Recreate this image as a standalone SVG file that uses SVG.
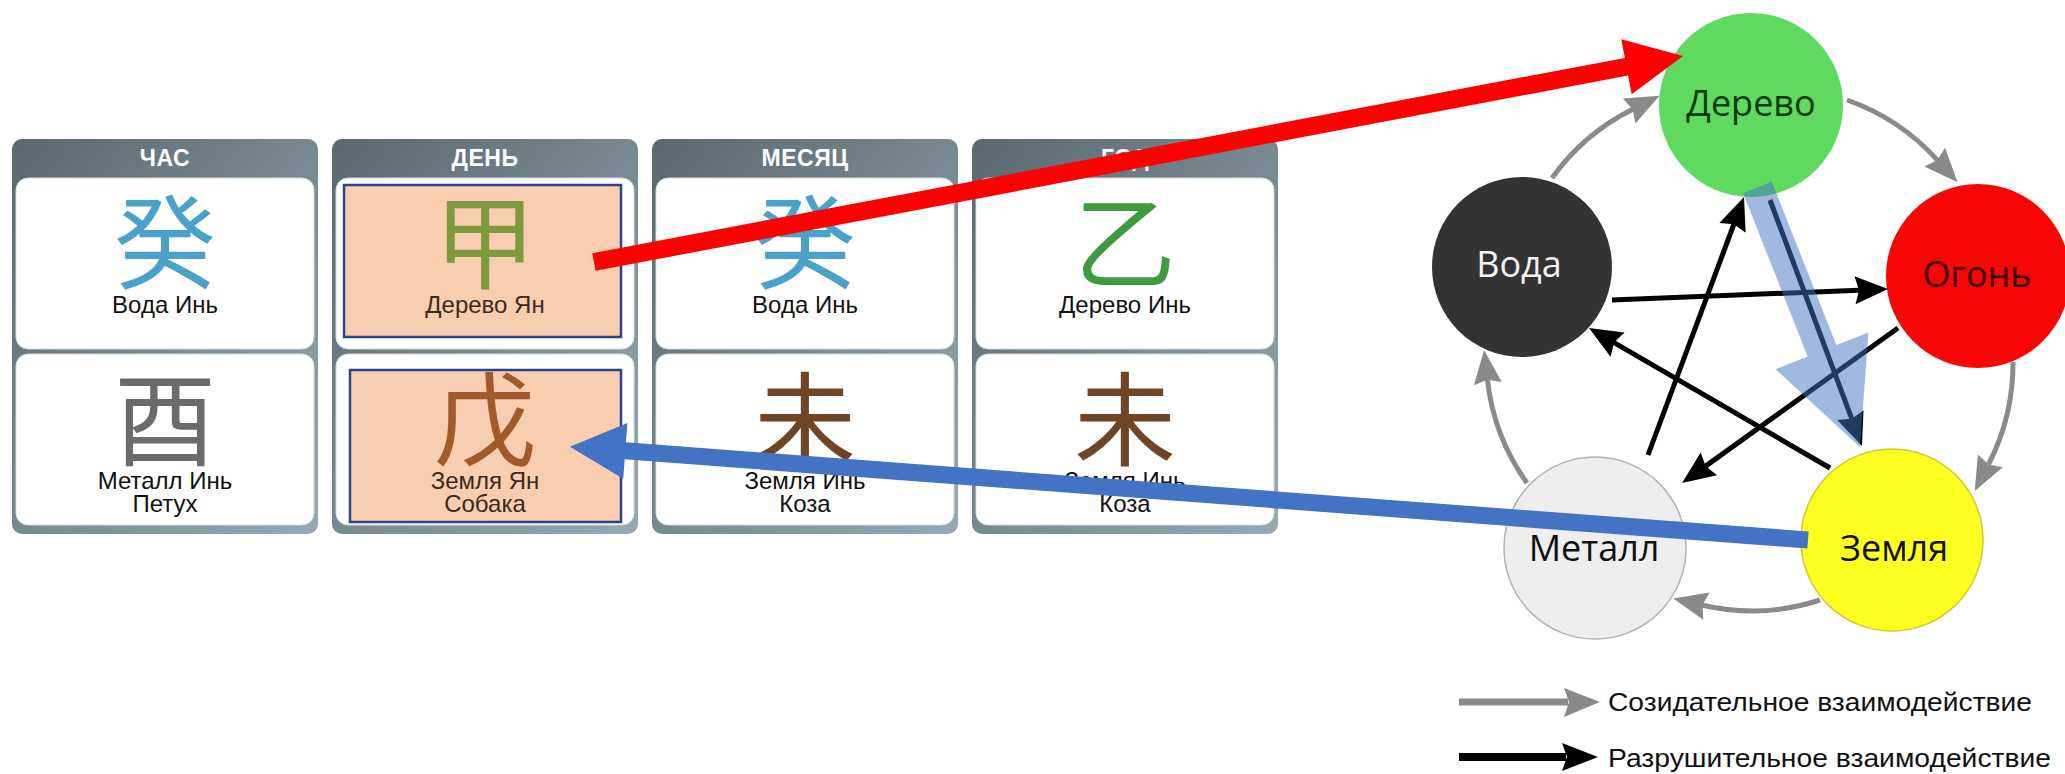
<svg xmlns="http://www.w3.org/2000/svg" width="2065" height="774" viewBox="0 0 2065 774">
<style>
.hdr{font-family:"Liberation Sans",Arial,sans-serif;font-weight:bold;font-size:23px;fill:#ffffff;text-anchor:middle;letter-spacing:0.5px}
.lbl{font-family:"Liberation Sans",Arial,sans-serif;font-size:24px;fill:#111111;text-anchor:middle}
.lblh{fill:#3a2a1e}
.cjk{font-family:"Noto Sans CJK SC","Noto Sans CJK JP",sans-serif;font-size:102px;text-anchor:middle}
.el{font-family:"Open Sans","Noto Sans",sans-serif;font-size:36px;text-anchor:middle}
.leg{font-family:"Liberation Sans",Arial,sans-serif;font-size:26px;fill:#111111}
.card{fill:#ffffff;stroke:#d6dbde;stroke-width:1}
.hl{fill:#f8cdb0;stroke:#284690;stroke-width:2.5}
.gray{fill:none;stroke:#8a8a8a;stroke-width:5}
.blk{fill:none;stroke:#000000;stroke-width:5}
</style>
<defs>
<linearGradient id="pg" x1="0" y1="0" x2="1" y2="1">
<stop offset="0" stop-color="#5a6870"/>
<stop offset="1" stop-color="#96a9b4"/>
</linearGradient>
<marker id="ag" markerUnits="userSpaceOnUse" markerWidth="40" markerHeight="32" refX="4" refY="14" orient="auto" overflow="visible">
<path d="M0,0 L34,14 L0,28 L4,14 Z" fill="#8a8a8a"/>
</marker>
<marker id="ab" markerUnits="userSpaceOnUse" markerWidth="40" markerHeight="32" refX="4" refY="14" orient="auto" overflow="visible">
<path d="M0,0 L33,14 L0,28 L4,14 Z" fill="#000000"/>
</marker>
</defs>
<rect width="2065" height="774" fill="#ffffff"/>

<g id="panel-hour">
<rect x="12" y="139" width="306" height="395" rx="10" fill="url(#pg)"/>
<text class="hdr" x="165" y="166">ЧАС</text>
<rect class="card" x="16" y="178" width="298" height="171" rx="12"/>
<text class="cjk" x="165" y="281" fill="#4aa1c9">癸</text>
<text class="lbl" x="165" y="313">Вода Инь</text>
<rect class="card" x="16" y="354" width="298" height="171" rx="12"/>
<text class="cjk" x="165" y="458" fill="#6b6b6b">酉</text>
<text class="lbl" x="165" y="489">Металл Инь</text>
<text class="lbl" x="165" y="512">Петух</text>
</g>

<g id="panel-day">
<rect x="332" y="139" width="306" height="395" rx="10" fill="url(#pg)"/>
<text class="hdr" x="485" y="166">ДЕНЬ</text>
<rect class="card" x="336" y="178" width="298" height="171" rx="12"/>
<rect class="hl" x="344" y="185" width="277" height="152"/>
<text class="cjk" x="485" y="281" fill="#7d9a3c">甲</text>
<text class="lbl lblh" x="485" y="313">Дерево Ян</text>
<rect class="card" x="336" y="354" width="298" height="171" rx="12"/>
<rect class="hl" x="350" y="370" width="271" height="152"/>
<text class="cjk" x="485" y="458" fill="#a25a2a">戊</text>
<text class="lbl lblh" x="485" y="489">Земля Ян</text>
<text class="lbl lblh" x="485" y="512">Собака</text>
</g>

<g id="panel-month">
<rect x="652" y="139" width="306" height="395" rx="10" fill="url(#pg)"/>
<text class="hdr" x="805" y="166">МЕСЯЦ</text>
<rect class="card" x="656" y="178" width="298" height="171" rx="12"/>
<text class="cjk" x="805" y="281" fill="#4aa1c9">癸</text>
<text class="lbl" x="805" y="313">Вода Инь</text>
<rect class="card" x="656" y="354" width="298" height="171" rx="12"/>
<text class="cjk" x="805" y="458" fill="#6e4526">未</text>
<text class="lbl" x="805" y="489">Земля Инь</text>
<text class="lbl" x="805" y="512">Коза</text>
</g>

<g id="panel-year">
<rect x="972" y="139" width="306" height="395" rx="10" fill="url(#pg)"/>
<text class="hdr" x="1125" y="166">ГОД</text>
<rect class="card" x="976" y="178" width="298" height="171" rx="12"/>
<text class="cjk" x="1125" y="281" fill="#3f9a40">乙</text>
<text class="lbl" x="1125" y="313">Дерево Инь</text>
<rect class="card" x="976" y="354" width="298" height="171" rx="12"/>
<text class="cjk" x="1125" y="458" fill="#6e4526">未</text>
<text class="lbl" x="1125" y="489">Земля Инь</text>
<text class="lbl" x="1125" y="512">Коза</text>
</g>

<g id="node-wood">
<circle cx="1751" cy="105" r="92" fill="#60d960"/>
<text class="el" x="1751" y="116" fill="#0b3a0b">Дерево</text>
</g>
<g id="node-fire">
<circle cx="1978" cy="276" r="92" fill="#f80606"/>
<text class="el" x="1977" y="287" fill="#3a0000">Огонь</text>
</g>
<g id="node-water">
<circle cx="1522" cy="267" r="90" fill="#333333"/>
<text class="el" x="1519" y="277" fill="#f2f2f2">Вода</text>
</g>
<g id="node-metal">
<circle cx="1595" cy="548" r="91" fill="#eeeeee" stroke="#b4b4b4" stroke-width="1.5"/>
<text class="el" x="1594" y="561" fill="#111111">Металл</text>
</g>
<g id="node-earth">
<circle cx="1892" cy="540" r="91" fill="#ffff22" stroke="#cccc30" stroke-width="1.5"/>
<text class="el" x="1894" y="561" fill="#111111">Земля</text>
</g>

<g id="connectors">
<path class="gray" d="M1552,178 A220,220 0 0,1 1632.7,109.2" marker-end="url(#ag)"/>
<path class="gray" d="M1847,100 A220,220 0 0,1 1937.4,160.1" marker-end="url(#ag)"/>
<path class="gray" d="M2013,362 A220,220 0 0,1 1988.5,464.4" marker-end="url(#ag)"/>
<path class="gray" d="M1820,600 A220,220 0 0,1 1702.5,605.3" marker-end="url(#ag)"/>
<path class="gray" d="M1527,483 A220,220 0 0,1 1487.4,379.7" marker-end="url(#ag)"/>

<path class="blk" d="M1612,300 L1859,290.2" marker-end="url(#ab)"/>
<path class="blk" d="M1898,328 L1705.6,466.1" marker-end="url(#ab)"/>
<path class="blk" d="M1648,455 L1733.9,224.2" marker-end="url(#ab)"/>
<path class="blk" d="M1770,200 L1851.8,418.8" marker-end="url(#ab)"/>
<path class="blk" d="M1830,468 L1614.1,342.6" marker-end="url(#ab)"/>

<polygon points="1743.1,193.2 1771.9,181.8 1836.4,345.1 1868.5,332.4 1860,447 1775.5,369.2 1807.6,356.5" fill="#4472c4" fill-opacity="0.5"/>

<polygon points="592.4,253.2 1624.9,57.9 1621.3,39.2 1683,56 1631.7,94.2 1628.1,75.5 595.6,270.8" fill="#ff0000"/>
<polygon points="1808.6,531.5 625.9,442.3 627.4,422.9 570,446.7 623.2,478.7 624.7,459.3 1807.4,548.5" fill="#4472c4"/>
</g>

<g id="legend">
<line x1="1459" y1="702" x2="1568" y2="702" stroke="#8a8a8a" stroke-width="7"/>
<polygon points="1564,688 1600,702 1564,717 1569,702" fill="#8a8a8a"/>
<text class="leg" x="1608" y="711" textLength="424" lengthAdjust="spacingAndGlyphs">Созидательное взаимодействие</text>
<line x1="1459" y1="757" x2="1566" y2="757" stroke="#000000" stroke-width="8"/>
<polygon points="1562,743 1598,757 1562,771 1567,757" fill="#000000"/>
<text class="leg" x="1608" y="767" textLength="443" lengthAdjust="spacingAndGlyphs">Разрушительное взаимодействие</text>
</g>
</svg>
